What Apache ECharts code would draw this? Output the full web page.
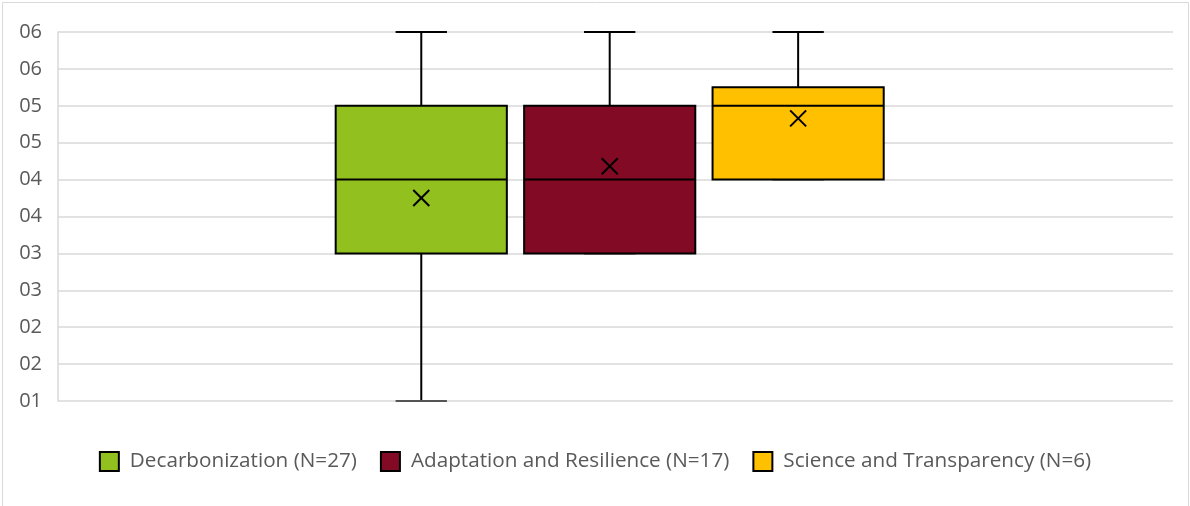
<!DOCTYPE html>
<html>
<head>
<meta charset="utf-8">
<script src="https://cdn.jsdelivr.net/npm/echarts@6/dist/echarts.min.js"></script>
<style>
  html, body { margin: 0; padding: 0; background: #fff; }
  #chart { width: 1190px; height: 506px; }
</style>
</head>
<body>
<div id="chart"></div>
<script>
// Groups and their box-plot statistics (score scale 1-6)
const groupNames = [
  'Decarbonization (N=27)',
  'Adaptation and Resilience (N=17)',
  'Science and Transparency (N=6)'
];
const groupColors = ['#92C01F', '#830A25', '#FFC000'];
const whiskerLow  = [1, 3, 4];
const quartile1   = [3, 3, 4];
const medians     = [4, 4, 5];
const quartile3   = [5, 5, 5.25];
const whiskerHigh = [6, 6, 6];
const means       = [3.75, 4.18, 4.83];
const categories  = [''];

// y tick labels are shown rounded to two-digit integers
const yMin = 1, yMax = 6, yStep = 0.5;
const tickLabel = v => String(Math.round(v)).padStart(2, '0');

const FONT = '"Open Sans"';
const TEXT_COLOR = '#595959';

// Horizontal placement of each box inside the single category band
const SLOT = 0.169;      // distance between box centres, fraction of band
const SHIFT = -0.0052;   // shift of the whole group, fraction of band
const BOX_W = 0.1535;    // box width, fraction of band
const CAP_RATIO = 0.3;   // whisker cap width relative to box width
const MARK = 8;          // half size of the mean marker

function makeRender(gi) {
  return function (params, api) {
    const band = api.size([1, 0])[0];
    const c = api.coord([api.value(0), api.value(1)])[0] + band * (SHIFT + (gi - 1) * SLOT);
    const bw = band * BOX_W;
    const cw = bw * CAP_RATIO;
    const y = v => api.coord([api.value(0), v])[1];
    const yLo = y(api.value(1)), yQ1 = y(api.value(2)), yMed = y(api.value(3));
    const yQ3 = y(api.value(4)), yHi = y(api.value(5)), yMean = y(api.value(6));
    const line = { stroke: '#000', lineWidth: 2 };
    return {
      type: 'group',
      children: [
        { type: 'line', shape: { x1: c, y1: yQ3, x2: c, y2: yHi }, style: line },
        { type: 'line', shape: { x1: c, y1: yQ1, x2: c, y2: yLo }, style: line },
        { type: 'line', shape: { x1: c - cw / 2, y1: yHi, x2: c + cw / 2, y2: yHi }, style: line },
        { type: 'line', shape: { x1: c - cw / 2, y1: yLo, x2: c + cw / 2, y2: yLo }, style: { stroke: '#555', lineWidth: 2 } },
        { type: 'rect', shape: { x: c - bw / 2, y: yQ3, width: bw, height: yQ1 - yQ3 },
          style: { fill: api.visual('color'), stroke: '#000', lineWidth: 2 } },
        { type: 'line', shape: { x1: c - bw / 2, y1: yMed, x2: c + bw / 2, y2: yMed }, style: line },
        { type: 'line', shape: { x1: c - MARK, y1: yMean - MARK, x2: c + MARK, y2: yMean + MARK }, style: line },
        { type: 'line', shape: { x1: c - MARK, y1: yMean + MARK, x2: c + MARK, y2: yMean - MARK }, style: line }
      ]
    };
  };
}

const series = groupNames.map((name, i) => ({
  name,
  type: 'custom',
  renderItem: makeRender(i),
  itemStyle: { color: groupColors[i] },
  encode: { x: 0, y: [1, 2, 3, 4, 5, 6] },
  data: [[0, whiskerLow[i], quartile1[i], medians[i], quartile3[i], whiskerHigh[i], means[i]]],
  silent: true
}));

const chart = echarts.init(document.getElementById('chart'), null, { renderer: 'canvas' });
chart.setOption({
  animation: false,
  backgroundColor: '#fff',
  graphic: [{
    type: 'rect', silent: true, z: -1,
    shape: { x: 2.5, y: 2.5, width: 1186, height: 600 },
    style: { fill: 'none', stroke: '#D9D9D9', lineWidth: 1 }
  }],
  grid: { left: 58, right: 17, top: 32, bottom: 105 },
  xAxis: {
    type: 'category',
    data: categories,
    axisLine: { show: false },
    axisTick: { show: false },
    axisLabel: { show: false },
    splitLine: { show: false }
  },
  yAxis: {
    type: 'value',
    min: yMin, max: yMax, interval: yStep,
    axisLine: { show: true, lineStyle: { color: '#D9D9D9', width: 1.5 } },
    axisTick: { show: false },
    splitLine: { show: true, lineStyle: { color: '#D9D9D9', width: 1.5 } },
    axisLabel: {
      formatter: tickLabel,
      color: TEXT_COLOR, fontFamily: FONT, fontSize: 20, margin: 16
    }
  },
  legend: {
    left: 'center',
    top: 446,
    itemWidth: 19,
    itemHeight: 19,
    itemGap: 23,
    icon: 'rect',
    data: groupNames.map((n, i) => ({
      name: n,
      itemStyle: { color: groupColors[i], borderColor: '#000', borderWidth: 2 }
    })),
    textStyle: { color: TEXT_COLOR, fontFamily: FONT, fontSize: 20.7, padding: [0, 0, 0, 6] }
  },
  series
});
</script>
</body>
</html>
